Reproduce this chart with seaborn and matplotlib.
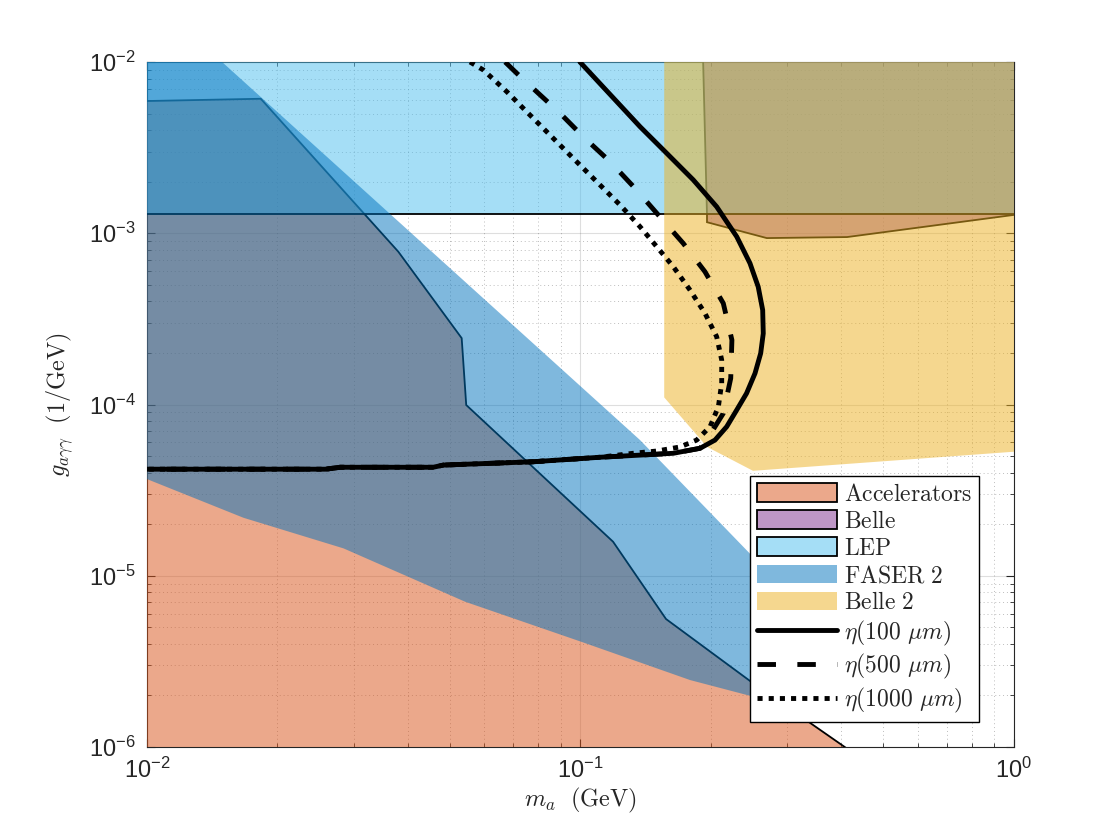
import matplotlib
matplotlib.use("Agg")
import matplotlib.pyplot as plt
import seaborn as sns
import pandas as pd
from matplotlib.ticker import LogLocator, NullFormatter

# ---------------- data (m_a in GeV, g in 1/GeV) ----------------
acc_m = [0.008, 0.0183, 0.038, 0.0532, 0.0545, 0.1189, 0.1575, 0.250, 0.407, 0.51, 0.51, 0.008]
acc_g = [5.85e-3, 6.1e-3, 7.8e-4, 2.44e-4, 9.93e-5, 1.58e-5, 5.59e-6, 2.36e-6, 1.0e-6, 6.6e-7, 1e-8, 1e-8]

belle_m = [0.1905, 0.1958, 0.1958, 0.269, 0.412, 1.0, 1.2, 1.2]
belle_g = [2e-2, 1.28e-3, 1.16e-3, 9.37e-4, 9.5e-4, 1.28e-3, 1.3e-3, 2e-2]

lep_m = [0.008, 1.2, 1.2, 0.008]
lep_g = [1.3e-3, 1.3e-3, 2e-2, 2e-2]

faser_m = [0.008, 0.0125, 0.0149, 0.1372, 0.250, 0.419, 0.40, 0.250, 0.179, 0.1003, 0.0542, 0.0284, 0.0167, 0.008]
faser_g = [1.5e-2, 1.5e-2, 1e-2, 6.2e-5, 1.29e-5, 3.3e-6, 1.6e-6, 1.97e-6, 2.46e-6, 4.12e-6, 7.05e-6, 1.445e-5, 2.18e-5, 4.6e-5]

belle2_m = [0.156, 0.156, 0.196, 0.250, 1.0, 1.2, 1.2]
belle2_g = [2e-2, 1.1e-4, 5.65e-5, 4.1e-5, 5.3e-5, 5.5e-5, 2e-2]

eta100_m = [0.0997, 0.1372, 0.1581, 0.182, 0.2061, 0.2293, 0.246, 0.257, 0.2632, 0.264,
            0.2604, 0.2527, 0.2416, 0.2293, 0.2174, 0.2043, 0.1887, 0.1637, 0.1446, 0.1109, 0.0777,
            0.0483, 0.0457, 0.0279, 0.0258, 0.01]
eta100_g = [1.0e-2, 4.19e-3, 2.93e-3, 2.05e-3, 1.429e-3, 9.55e-4, 6.68e-4, 4.87e-4, 3.56e-4, 2.6e-4,
            1.99e-4, 1.521e-4, 1.162e-4, 9.29e-5, 7.42e-5, 6.2e-5, 5.55e-5, 5.19e-5, 5.1e-5, 4.92e-5, 4.63e-5,
            4.43e-5, 4.3e-5, 4.3e-5, 4.19e-5, 4.19e-5]

eta500_m = [0.067, 0.0713, 0.0792, 0.0897, 0.1024, 0.117, 0.1336, 0.1512, 0.1726, 0.1937, 0.2135, 0.2235,
            0.2221, 0.2135, 0.1955, 0.1887, 0.1637, 0.1446, 0.1109, 0.0777, 0.0483, 0.0457, 0.0279, 0.0258, 0.01]
eta500_g = [1e-2, 8.59e-3, 6.71e-3, 5.02e-3, 3.58e-3, 2.62e-3, 1.83e-3, 1.278e-3, 8.73e-4, 5.96e-4, 3.9e-4, 2.38e-4,
            1.422e-4, 8.88e-5, 6.2e-5, 5.55e-5, 5.19e-5, 5.1e-5, 4.92e-5, 4.63e-5, 4.43e-5, 4.3e-5, 4.3e-5,
            4.19e-5, 4.19e-5]

eta1000_m = [0.0556, 0.0597, 0.0676, 0.0751, 0.0850, 0.0962, 0.109, 0.1234, 0.1372, 0.1499, 0.1637, 0.1789,
             0.1937, 0.2061, 0.2117, 0.2117, 0.208, 0.199, 0.1854, 0.1696, 0.1499, 0.1323, 0.1109, 0.0777,
             0.0483, 0.0457, 0.0279, 0.0258, 0.01]
eta1000_g = [1e-2, 8.98e-3, 6.71e-3, 5.13e-3, 3.75e-3, 2.74e-3, 2.0e-3, 1.462e-3, 1.092e-3, 8.35e-4, 6.38e-4,
             4.66e-4, 3.41e-4, 2.49e-4, 1.82e-4, 1.33e-4, 9.71e-5, 7.42e-5, 6.2e-5, 5.65e-5, 5.35e-5, 5.19e-5,
             4.92e-5, 4.63e-5, 4.43e-5, 4.3e-5, 4.3e-5, 4.19e-5, 4.19e-5]

region_labels = ["Accelerators", "Belle", "LEP", "FASER 2", "Belle 2"]
curve_labels = [r"$\eta(100\ \mu m)$", r"$\eta(500\ \mu m)$", r"$\eta(1000\ \mu m)$"]

# ---------------- style ----------------
sns.set_theme(style="ticks")
plt.rcParams["font.family"] = ["Liberation Sans", "DejaVu Sans"]
plt.rcParams["mathtext.fontset"] = "cm"

TXT = (0.15, 0.15, 0.15)
fig = plt.figure(figsize=(11.2, 8.4), dpi=100)
ax = fig.add_axes([0.13125, 0.1107, 0.7741, 0.8155])
ax.set_xscale("log")
ax.set_yscale("log")

colors = {
    "Accelerators": (0.850, 0.325, 0.098),
    "Belle": (0.494, 0.184, 0.556),
    "LEP": (0.301, 0.745, 0.933),
    "FASER 2": (0.000, 0.447, 0.741),
    "Belle 2": (0.929, 0.694, 0.125),
}
regions = [
    ("Accelerators", acc_m, acc_g, True),
    ("Belle", belle_m, belle_g, True),
    ("LEP", lep_m, lep_g, True),
    ("FASER 2", faser_m, faser_g, False),
    ("Belle 2", belle2_m, belle2_g, False),
]
handles = []
for i, (name, mm, gg, edged) in enumerate(regions):
    poly = ax.fill(mm, gg, facecolor=(*colors[name], 0.5),
                   edgecolor="black" if edged else "none",
                   linewidth=1.3 if edged else 0, label=name, zorder=1 + i * 0.01)[0]
    handles.append(poly)

curves = [
    (eta100_m, eta100_g, "-", curve_labels[0]),
    (eta500_m, eta500_g, (0, (3.8, 4.4)), curve_labels[1]),
    (eta1000_m, eta1000_g, (0, (1.05, 1.25)), curve_labels[2]),
]
for mm, gg, ls, lab in curves:
    df = pd.DataFrame({"m": mm, "g": gg})
    sns.lineplot(data=df, x="m", y="g", sort=False, estimator=None, ax=ax,
                 color="black", linewidth=3.5, linestyle=ls, label=lab, legend=False, zorder=3)
line_handles = ax.get_lines()[-3:]
for ln in line_handles:
    ln.set_dash_capstyle("butt")
    ln.set_solid_joinstyle("round")
handles += line_handles

ax.set_xlim(1e-2, 1)
ax.set_ylim(1e-6, 1e-2)

ax.xaxis.set_major_locator(LogLocator(base=10, numticks=10))
ax.yaxis.set_major_locator(LogLocator(base=10, numticks=10))
ax.xaxis.set_minor_locator(LogLocator(base=10, subs=range(2, 10), numticks=20))
ax.yaxis.set_minor_locator(LogLocator(base=10, subs=range(2, 10), numticks=20))
ax.xaxis.set_minor_formatter(NullFormatter())
ax.yaxis.set_minor_formatter(NullFormatter())

ax.set_axisbelow(True)
ax.grid(True, which="major", color=TXT, alpha=0.15, linewidth=0.8, linestyle="-")
ax.grid(True, which="minor", color=TXT, alpha=0.3, linewidth=0.7, linestyle=(0, (1, 3)))
ax.tick_params(which="both", direction="in", top=True, right=True, colors=TXT,
               labelsize=17, pad=8)
ax.tick_params(which="major", length=6, width=0.8)
ax.tick_params(which="minor", length=3, width=0.6)
for sp in ax.spines.values():
    sp.set_visible(True)
    sp.set_color(TXT)
    sp.set_linewidth(0.8)
    sp.set_zorder(0.6)

ax.set_xlabel(r"$m_a\ \ \mathrm{(GeV)}$", fontsize=17.5, color=TXT, labelpad=2)
ax.set_ylabel(r"$g_{a\gamma\gamma}\ \ \mathrm{(1/GeV)}$", fontsize=17.5, color=TXT, labelpad=10)

disp = [r"$\mathrm{" + l.replace(" ", r"\ ") + "}$" for l in region_labels] + curve_labels
leg = ax.legend(handles, disp, loc="lower right", bbox_to_anchor=(0.9596, 0.0365),
                borderaxespad=0, fontsize=17, handlelength=3.4, handleheight=0.85,
                labelspacing=0.19, handletextpad=0.3, borderpad=0.3,
                frameon=True, fancybox=False, framealpha=1, edgecolor="black")
leg.get_frame().set_linewidth(1.0)
leg.set_zorder(5)

fig.savefig("out.png", dpi=100, facecolor="white")
